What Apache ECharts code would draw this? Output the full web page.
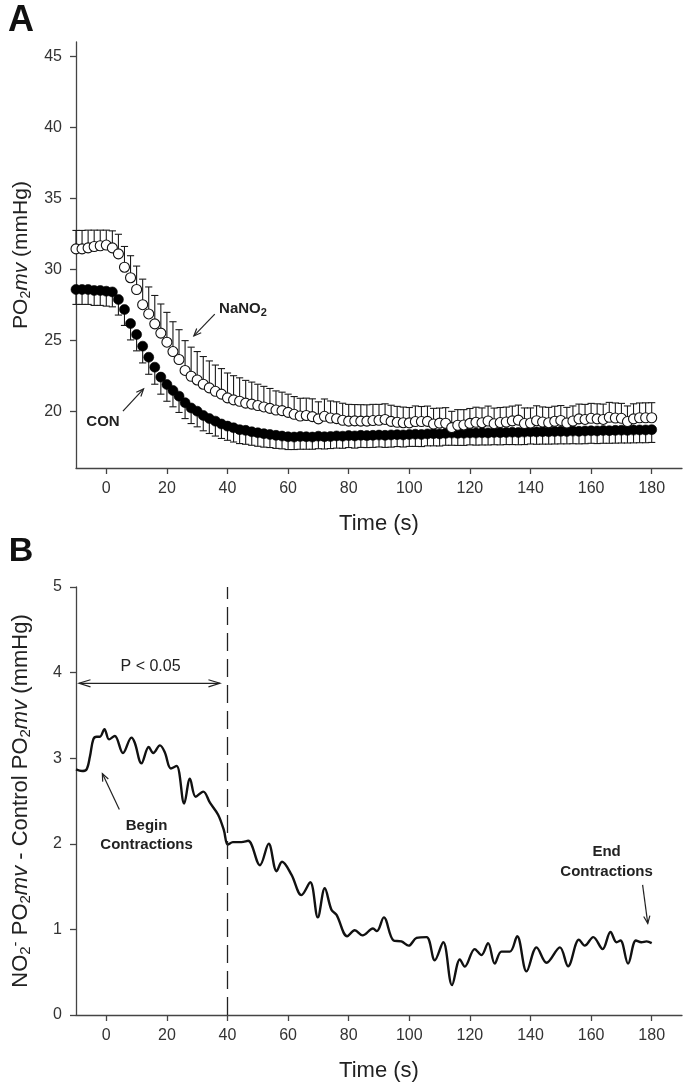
<!DOCTYPE html>
<html><head><meta charset="utf-8">
<script src="https://cdn.jsdelivr.net/npm/echarts/dist/echarts.min.js"></script>
<style>html,body{margin:0;padding:0;background:#fff}#c{width:690px;height:1089px}</style>
</head><body><div id="c"></div>
<script>
// ---------- Panel A data (2-s bins) ----------
const aTime = [-10,-8,-6,-4,-2,0,2,4,6,8,10,12,14,16,18,20,22,24,26,28,30,32,34,36,38,40,42,44,46,48,50,52,54,56,58,60,62,64,66,68,70,72,74,76,78,80,82,84,86,88,90,92,94,96,98,100,102,104,106,108,110,112,114,116,118,120,122,124,126,128,130,132,134,136,138,140,142,144,146,148,150,152,154,156,158,160,162,164,166,168,170,172,174,176,178,180];
const nanoValues = [31.43,31.43,31.50,31.60,31.65,31.70,31.50,31.08,30.14,29.40,
  28.57,27.50,26.85,26.15,25.50,24.86,24.20,23.64,22.87,22.46,
  22.20,21.90,21.64,21.40,21.20,20.94,20.80,20.70,20.57,20.50,
  20.40,20.30,20.20,20.08,20.04,19.92,19.78,19.66,19.70,19.62,
  19.46,19.64,19.52,19.48,19.36,19.30,19.32,19.30,19.30,19.34,
  19.36,19.42,19.28,19.22,19.19,19.18,19.27,19.27,19.28,19.10,
  19.16,19.15,18.84,19.01,19.03,19.14,19.22,19.19,19.31,19.12,
  19.20,19.24,19.32,19.37,19.13,19.17,19.33,19.24,19.19,19.29,
  19.35,19.17,19.31,19.46,19.42,19.50,19.46,19.42,19.57,19.52,
  19.50,19.27,19.46,19.54,19.54,19.54];
const nanoErr = [1.30,1.30,1.25,1.15,1.10,1.05,1.20,1.38,1.46,1.55,
  1.65,1.80,1.90,2.00,2.05,2.10,2.10,2.10,2.10,2.05,
  2.00,1.95,1.90,1.85,1.80,1.75,1.70,1.65,1.60,1.55,
  1.50,1.45,1.40,1.35,1.30,1.28,1.25,1.25,1.22,1.25,
  1.20,1.22,1.20,1.18,1.20,1.18,1.15,1.16,1.15,1.14,
  1.12,1.10,1.14,1.12,1.10,1.08,1.10,1.06,1.08,1.10,
  1.06,1.10,1.15,1.10,1.08,1.05,1.06,1.04,1.05,1.10,
  1.06,1.05,1.04,1.06,1.10,1.06,1.05,1.06,1.08,1.06,
  1.05,1.10,1.06,1.04,1.06,1.05,1.06,1.08,1.05,1.06,
  1.05,1.10,1.06,1.04,1.05,1.06];
const conValues = [28.57,28.57,28.57,28.50,28.50,28.45,28.40,27.87,27.16,26.17,
  25.40,24.58,23.80,23.10,22.40,21.88,21.46,21.06,20.60,20.23,
  20.00,19.70,19.48,19.30,19.10,18.95,18.83,18.70,18.65,18.55,
  18.48,18.42,18.36,18.30,18.25,18.20,18.18,18.22,18.20,18.18,
  18.24,18.20,18.22,18.26,18.24,18.28,18.26,18.30,18.28,18.30,
  18.32,18.30,18.33,18.35,18.33,18.36,18.38,18.36,18.40,18.42,
  18.40,18.44,18.46,18.44,18.45,18.47,18.46,18.48,18.47,18.50,
  18.49,18.50,18.52,18.50,18.53,18.55,18.54,18.56,18.55,18.57,
  18.58,18.57,18.60,18.58,18.61,18.62,18.61,18.64,18.63,18.65,
  18.66,18.65,18.67,18.68,18.68,18.70];
const conErr = [1.05,1.05,1.05,1.05,1.05,1.05,1.05,1.10,1.12,1.15,
  1.15,1.18,1.20,1.20,1.20,1.18,1.15,1.15,1.12,1.10,
  1.10,1.08,1.05,1.05,1.02,1.00,1.00,0.98,0.98,0.95,
  0.95,0.95,0.92,0.92,0.90,0.90,0.88,0.90,0.88,0.86,
  0.88,0.86,0.85,0.86,0.85,0.84,0.86,0.85,0.84,0.85,
  0.84,0.85,0.86,0.84,0.85,0.84,0.86,0.85,0.84,0.86,
  0.85,0.84,0.86,0.85,0.86,0.84,0.85,0.86,0.85,0.86,
  0.86,0.85,0.87,0.86,0.88,0.86,0.87,0.88,0.87,0.88,
  0.88,0.87,0.89,0.88,0.90,0.88,0.89,0.90,0.89,0.90,
  0.90,0.89,0.90,0.90,0.90,0.90];

// ---------- Panel B data (difference trace) ----------
const bTime = [-10,-8,-6.5,-5.4,-4.3,-3.2,-2.1,-0.6,0.9,2.8,5.5,8.3,9.4,11.6,14,15.5,17.7,19.3,21.3,23.2,25.7,27.6,29.5,32,34.2,36.9,38.8,40.1,41.8,44.6,46.8,50.7,53.6,56.2,58,61.1,64.4,67.3,69.8,72.1,74.3,76,79.5,82,84.6,88,89.3,91.6,94.8,97.4,99.8,102.4,105.7,108.4,111.2,114.1,116.7,118.3,121.6,123.8,126,128.2,130.4,133.2,135.6,138.7,142,145.3,149.7,152.4,156,157.9,160.7,163.8,166.4,168.4,169.7,172.2,174.8,176.6,178.3,180];
const bDiff = [2.87,2.85,2.87,3.02,3.22,3.25,3.25,3.34,3.22,3.26,3.06,3.24,3.18,2.94,3.13,3.06,3.15,3.07,2.88,2.91,2.47,2.76,2.55,2.61,2.48,2.34,2.16,1.99,2.02,2.02,2.035,1.75,2.0,1.68,1.79,1.64,1.40,1.55,1.14,1.48,1.23,1.17,0.92,0.99,0.93,1.01,0.98,1.14,0.87,0.86,0.81,0.90,0.91,0.64,0.85,0.35,0.65,0.565,0.77,0.70,0.84,0.60,0.74,0.74,0.92,0.51,0.79,0.61,0.79,0.57,0.88,0.81,0.91,0.77,0.97,0.85,0.87,0.60,0.87,0.85,0.86,0.84];

// ---------- ticks ----------
const xTicks = [0,20,40,60,80,100,120,140,160,180];
const aYTicks = [20,25,30,35,40,45];

const FONT = '"Liberation Sans", Arial, Helvetica, sans-serif';
const AX = '#444';
const TXT = '#222';

const chart = echarts.init(document.getElementById('c'));

function xAxisCfg(g) {
  return {
    gridIndex: g, type: 'value', min: -10, max: 190,
    axisLine: {show: true, onZero: false, lineStyle: {color: AX, width: 1.3}},
    axisTick: {show: true, customValues: xTicks, length: 6, lineStyle: {color: AX, width: 1.3}},
    axisLabel: {customValues: xTicks, fontSize: 16, color: '#333', margin: 13, fontFamily: FONT},
    splitLine: {show: false},
    name: 'Time (s)', nameLocation: 'middle', nameGap: 45,
    nameTextStyle: {fontSize: 22, color: TXT, fontFamily: FONT}
  };
}
function nameRich(size) {
  return {
    sub: {fontSize: Math.round(size * 0.66), fontFamily: FONT, color: TXT, padding: [10, 0, 0, 0]},
    sup: {fontSize: Math.round(size * 0.66), fontFamily: FONT, color: TXT, padding: [0, 0, 10, 0]},
    it: {fontSize: size, fontFamily: FONT, color: TXT, fontStyle: 'italic'}
  };
}

function errRenderer(dir) {
  return function (params, api) {
    const x = api.value(0), y = api.value(1), e = api.value(2);
    const p0 = api.coord([x, y]);
    const p1 = api.coord([x, y + dir * e]);
    const st = {stroke: '#1a1a1a', lineWidth: 1.1};
    return {type: 'group', children: [
      {type: 'line', shape: {x1: p0[0], y1: p0[1], x2: p1[0], y2: p1[1]}, style: st},
      {type: 'line', shape: {x1: p1[0] - 3.6, y1: p1[1], x2: p1[0] + 3.6, y2: p1[1]}, style: st}
    ]};
  };
}

const option = {
  animation: false,
  backgroundColor: '#fff',
  grid: [
    {left: 76, top: 42, width: 606, height: 426, containLabel: false, outerBoundsMode: 'none'},
    {left: 76, top: 587, width: 606, height: 428, containLabel: false, outerBoundsMode: 'none'}
  ],
  xAxis: [xAxisCfg(0), xAxisCfg(1)],
  yAxis: [
    {gridIndex: 0, type: 'value', min: 16, max: 46,
     axisLine: {show: true, onZero: false, lineStyle: {color: AX, width: 1.3}},
     axisTick: {show: true, customValues: aYTicks, length: 6, lineStyle: {color: AX, width: 1.3}},
     axisLabel: {customValues: aYTicks, fontSize: 16, color: '#333', margin: 14, fontFamily: FONT},
     splitLine: {show: false},
     name: 'PO{sub|2}{it|mv} (mmHg)', nameLocation: 'middle', nameRotate: 90, nameGap: 43,
     nameTextStyle: {fontSize: 21, color: TXT, fontFamily: FONT, rich: nameRich(21)}},
    {gridIndex: 1, type: 'value', min: 0, max: 5, interval: 1,
     axisLine: {show: true, onZero: false, lineStyle: {color: AX, width: 1.3}},
     axisTick: {show: true, length: 6, lineStyle: {color: AX, width: 1.3}},
     axisLabel: {fontSize: 16, color: '#333', margin: 14, fontFamily: FONT},
     splitLine: {show: false},
     name: 'NO{sub|2}{sup|-} PO{sub|2}{it|mv} - Control PO{sub|2}{it|mv} (mmHg)', nameLocation: 'middle', nameRotate: 90, nameGap: 43,
     nameTextStyle: {fontSize: 22, color: TXT, fontFamily: FONT, rich: nameRich(22)}}
  ],
  series: [
    {type: 'custom', name: 'CON SE', xAxisIndex: 0, yAxisIndex: 0, silent: true, z: 1,
     renderItem: errRenderer(-1), encode: {x: 0, y: 1},
     data: aTime.map((t, i) => [t, conValues[i], conErr[i]])},
    {type: 'custom', name: 'NaNO2 SE', xAxisIndex: 0, yAxisIndex: 0, silent: true, z: 1,
     renderItem: errRenderer(1), encode: {x: 0, y: 1},
     data: aTime.map((t, i) => [t, nanoValues[i], nanoErr[i]])},
    {type: 'scatter', name: 'CON', xAxisIndex: 0, yAxisIndex: 0, z: 3, symbol: 'circle', symbolSize: 10,
     itemStyle: {color: '#000', borderColor: '#000', borderWidth: 0.6, opacity: 1},
     data: aTime.map((t, i) => [t, conValues[i]])},
    {type: 'scatter', name: 'NaNO2', xAxisIndex: 0, yAxisIndex: 0, z: 4, symbol: 'circle', symbolSize: 10,
     itemStyle: {color: '#fff', borderColor: '#111', borderWidth: 1.1, opacity: 1},
     data: aTime.map((t, i) => [t, nanoValues[i]])},
    {type: 'line', name: 'Difference', xAxisIndex: 1, yAxisIndex: 1, z: 3, smooth: 0.35,
     showSymbol: false, lineStyle: {color: '#111', width: 2.4},
     data: bTime.map((t, i) => [t, bDiff[i]]),
     markLine: {silent: true, symbol: 'none', label: {show: false},
       lineStyle: {type: [18, 8], color: '#222', width: 1.3},
       data: [{xAxis: 40}]}}
  ]
};
chart.setOption(option);

// ---------- annotations (placed in data coordinates) ----------
function px(g, t, v) { return chart.convertToPixel({gridIndex: g}, [t, v]); }
function head(tip, from, len, ang) {
  const dx = from[0] - tip[0], dy = from[1] - tip[1];
  const d = Math.hypot(dx, dy), ux = dx / d, uy = dy / d;
  const r = a => [tip[0] + len * (ux * Math.cos(a) - uy * Math.sin(a)), tip[1] + len * (ux * Math.sin(a) + uy * Math.cos(a))];
  return {type: 'polyline', shape: {points: [r(ang), tip, r(-ang)]}, style: {stroke: '#222', lineWidth: 1.2, fill: null}};
}
function arrow(p0, p1, len, ang, both) {
  const els = [{type: 'line', shape: {x1: p0[0], y1: p0[1], x2: p1[0], y2: p1[1]}, style: {stroke: '#222', lineWidth: 1.2}},
    head(p1, p0, len, ang)];
  if (both) els.push(head(p0, p1, len, ang));
  return els;
}
function label(p, text, size, weight, rich, lh) {
  return {type: 'text', x: p[0], y: p[1], style: {text: text, fontSize: size, fontWeight: weight, fontFamily: FONT,
    fill: TXT, align: 'center', verticalAlign: 'middle', rich: rich || {}, lineHeight: lh || size}};
}
const g = [];
// Panel A
g.push(label(px(0, 45.1, 27.2), 'NaNO{s|2}', 15, 'bold',
  {s: {fontSize: 11, fontWeight: 'bold', fontFamily: FONT, fill: TXT, padding: [8, 0, 0, 0]}}));
g.push(...arrow(px(0, 35.8, 26.84), px(0, 28.9, 25.3), 8, 0.4));
g.push(label(px(0, -1.1, 19.23), 'CON', 15, 'bold'));
g.push(...arrow(px(0, 5.5, 20.0), px(0, 12.3, 21.57), 8, 0.4));
// Panel B
g.push(label(px(1, 14.6, 4.07), 'P < 0.05', 16, 'normal'));
g.push(...arrow(px(1, -9, 3.875), px(1, 37.5, 3.875), 12, 0.3, true));
g.push(label(px(1, 13.3, 2.1), 'Begin\nContractions', 15, 'bold', null, 19));
g.push(...arrow(px(1, 4.3, 2.40), px(1, -1.3, 2.82), 8, 0.4));
g.push(label(px(1, 165.1, 1.79), 'End\nContractions', 15, 'bold', null, 20));
g.push(...arrow(px(1, 177, 1.52), px(1, 178.7, 1.07), 8, 0.4));
// Panel letters
g.push({type: 'text', x: 21, y: 21, style: {text: 'A', fontSize: 36, fontWeight: 'bold', fontFamily: FONT, fill: '#111', align: 'center', verticalAlign: 'middle'}});
g.push({type: 'text', x: 21, y: 552, style: {text: 'B', fontSize: 34, fontWeight: 'bold', fontFamily: FONT, fill: '#111', align: 'center', verticalAlign: 'middle'}});
chart.setOption({graphic: g});
</script>
</body></html>
